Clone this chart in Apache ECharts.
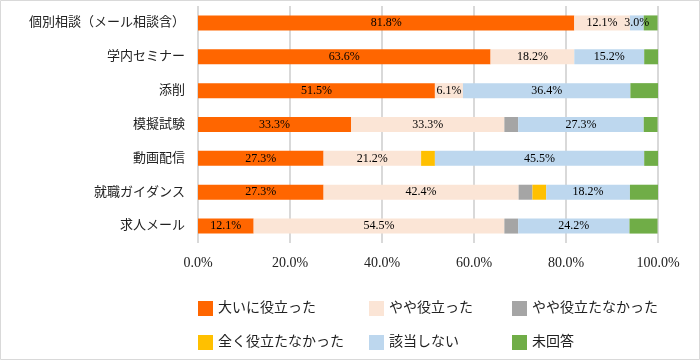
<!DOCTYPE html>
<html><head><meta charset="utf-8">
<script src="https://cdn.jsdelivr.net/npm/echarts@6/dist/echarts.min.js"></script>
<style>html,body{margin:0;padding:0;background:#fff}#c{width:700px;height:360px}</style>
</head><body><div id="c"></div>
<script>
const categories = ['個別相談（メール相談含）','学内セミナー','添削','模擬試験','動画配信','就職ガイダンス','求人メール'];
const seriesNames = ['大いに役立った','やや役立った','やや役立たなかった','全く役立たなかった','該当しない','未回答'];
const s1 = [81.8, 63.6, 51.5, 33.3, 27.3, 27.3, 12.1];
const s2 = [12.1, 18.2, 6.1, 33.3, 21.2, 42.4, 54.5];
const s3 = [0, 0, 0, 3.0, 0, 3.0, 3.0];
const s4 = [0, 0, 0, 0, 3.0, 3.0, 0];
const s5 = [3.0, 15.2, 36.4, 27.3, 45.5, 18.2, 24.2];
const s6 = [3.0, 3.0, 6.1, 3.0, 3.0, 6.1, 6.1];
const xTicks = [0, 20, 40, 60, 80, 100];
const colors = ['#FF6600','#FBE5D6','#A5A5A5','#FFC000','#BDD7EE','#70AD47'];
const labeled = [true, true, false, false, true, false];
const allData = [s1, s2, s3, s4, s5, s6];

const serif = '"Liberation Serif","Noto Sans CJK JP",serif';
const chart = echarts.init(document.getElementById('c'), null, {renderer:'canvas'});

const legendPos = [[198,301],[369,301],[512,301],[198,335],[369,335],[512,335]];
const legends = seriesNames.map((n,i)=>({
  data:[n], left:legendPos[i][0], top:legendPos[i][1], itemWidth:15, itemHeight:15,
  itemGap:0, icon:'rect', padding:0, selectedMode:false,
  textStyle:{fontFamily:serif, fontSize:14, color:'#222'}
}));

chart.setOption({
  animation:false,
  color: colors,
  graphic:[{type:'rect', shape:{x:0.5,y:0.5,width:699,height:359}, style:{fill:'none', stroke:'#d9d9d9', lineWidth:1}, silent:true}],
  legend: legends,
  grid:{left:198, right:42, top:6, height:237, containLabel:false},
  xAxis:{
    type:'value', min:0, max:100, interval:20,
    axisLine:{show:false}, axisTick:{show:false},
    splitLine:{show:true, lineStyle:{color:'#d9d9d9', width:2}},
    axisLabel:{formatter:v=>v.toFixed(1)+'%', fontFamily:serif, fontSize:14, color:'#222', margin:13,
      customValues: xTicks}
  },
  yAxis:{
    type:'category', data:categories, inverse:true,
    axisLine:{show:false}, axisTick:{show:false}, splitLine:{show:false},
    axisLabel:{fontFamily:serif, fontSize:13, color:'#222', margin:13}
  },
  series: seriesNames.map((n,i)=>({
    name:n, type:'bar', stack:'total', barWidth:15, data:allData[i],
    itemStyle:{color:colors[i]},
    label:{show:labeled[i], position:'inside', color:'#000', fontFamily:serif, fontSize:12,
      formatter:p=>p.value>0?p.value.toFixed(1)+'%':''}
  }))
});
</script></body></html>
